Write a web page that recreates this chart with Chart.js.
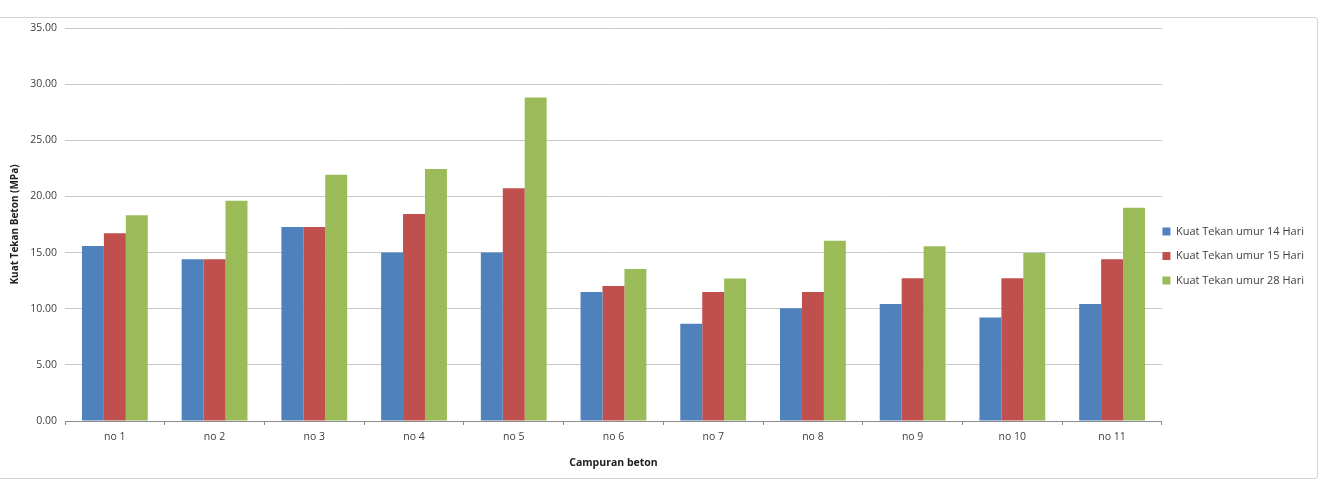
<!DOCTYPE html>
<html>
<head>
<meta charset="utf-8">
<script src="https://cdn.jsdelivr.net/npm/chart.js@4/dist/chart.umd.min.js"></script>
<style>
  html, body { margin: 0; padding: 0; background: #fff; }
  #wrap { position: relative; width: 1330px; height: 480px; overflow: hidden; }
  #frame { position: absolute; left: -6px; top: 17px; width: 1322px; height: 460px;
           border: 1px solid #d4d4d4; border-radius: 3px; }
  canvas { position: absolute; left: 0; top: 0; }
</style>
</head>
<body>
<div id="wrap">
  <div id="frame"></div>
  <canvas id="chart" width="1330" height="480"></canvas>
</div>
<script>
// Kuat tekan beton per campuran
const categories = ['no 1', 'no 2', 'no 3', 'no 4', 'no 5', 'no 6', 'no 7', 'no 8', 'no 9', 'no 10', 'no 11'];
const umur14 = [15.58, 14.40, 17.28, 15.00, 15.00, 11.49, 8.67, 10.04, 10.42, 9.21, 10.42];
const umur15 = [16.71, 14.40, 17.28, 18.43, 20.72, 12.02, 11.49, 11.49, 12.71, 12.71, 14.40];
const umur28 = [18.32, 19.62, 21.94, 22.44, 28.80, 13.54, 12.68, 16.05, 15.56, 14.96, 19.00];
const seriesLabels = ['Kuat Tekan umur 14 Hari', 'Kuat Tekan umur 15 Hari', 'Kuat Tekan umur 28 Hari'];
const yTicks = [0, 5, 10, 15, 20, 25, 30, 35];

const FONT = "'Open Sans', sans-serif";
const textColor = '#404040';

// geser legenda sedikit ke kiri/bawah supaya menempel ke area plot seperti di Excel
const legendShift = {
  id: 'legendShift',
  beforeDraw(chart) {
    const lg = chart.legend;
    if (!lg || lg._shifted) return;
    lg.left -= 13; lg.right -= 13;
    lg.top += 2; lg.bottom += 2;
    lg._shifted = true;
  }
};

new Chart(document.getElementById('chart'), {
  type: 'bar',
  data: {
    labels: categories,
    datasets: [
      { label: seriesLabels[0], data: umur14, backgroundColor: '#4F81BD' },
      { label: seriesLabels[1], data: umur15, backgroundColor: '#C0504D' },
      { label: seriesLabels[2], data: umur28, backgroundColor: '#9BBB59' }
    ]
  },
  options: {
    responsive: false,
    animation: false,
    layout: { padding: { top: 28, right: 3, bottom: 0, left: 0 } },
    datasets: { bar: { categoryPercentage: 0.66, barPercentage: 1.0 } },
    plugins: {
      tooltip: { enabled: false },
      legend: {
        position: 'right',
        align: 'center',
        labels: {
          boxWidth: 8,
          boxHeight: 8,
          padding: 13.5,
          color: textColor,
          font: { family: FONT, size: 11 }
        }
      }
    },
    scales: {
      x: {
        afterFit(scale) { scale.height = 59; },
        border: { display: true, color: '#8c8c8c' },
        grid: { drawOnChartArea: false, drawTicks: true, tickLength: 4, color: '#8c8c8c' },
        ticks: { color: textColor, font: { family: FONT, size: 10.5 }, padding: 6 },
        title: {
          display: true,
          text: 'Campuran beton',
          color: '#202020',
          font: { family: FONT, size: 10.5, weight: 'bold' },
          padding: { top: 8, bottom: 11 }
        }
      },
      y: {
        min: 0,
        max: 35,
        afterFit(scale) { scale.width = 65; },
        afterBuildTicks(scale) { scale.ticks = yTicks.map(v => ({ value: v })); },
        border: { display: false },
        grid: { color: '#c8c8c8', drawTicks: false },
        ticks: {
          color: textColor,
          font: { family: FONT, size: 10.5 },
          padding: 8,
          callback: v => Number(v).toFixed(2)
        },
        title: {
          display: true,
          text: 'Kuat Tekan Beton (MPa)',
          color: '#202020',
          font: { family: FONT, size: 10, weight: 'bold' },
          padding: { top: 9, bottom: 0 }
        }
      }
    }
  },
  plugins: [legendShift]
});
</script>
</body>
</html>
